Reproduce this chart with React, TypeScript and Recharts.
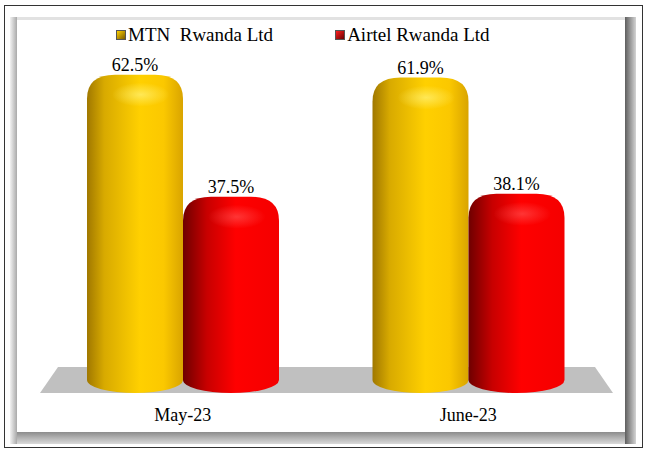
import React from "react";
import { BarChart, Bar, XAxis, YAxis, LabelList, ReferenceArea } from "recharts";

const categories = ["May-23", "June-23"];
const mtnShare = [62.5, 61.9];
const airtelShare = [37.5, 38.1];
const seriesNames = ["MTN  Rwanda Ltd", "Airtel Rwanda Ltd"];

const data = categories.map((month, i) => ({ month, mtn: mtnShare[i], airtel: airtelShare[i] }));

const FONT = "'Liberation Serif', 'Times New Roman', serif";

function Cylinder(props: any) {
  const { x, y, width: w, height: h, gradId, shineId } = props;
  if (h == null || w == null) return null;
  const base = y + h;
  const rx = 28;
  const ry = 24;
  const eb = 13;
  const d = [
    `M ${x} ${base}`,
    `L ${x} ${y + ry}`,
    `Q ${x} ${y} ${x + rx} ${y}`,
    `L ${x + w - rx} ${y}`,
    `Q ${x + w} ${y} ${x + w} ${y + ry}`,
    `L ${x + w} ${base}`,
    `A ${w / 2} ${eb} 0 0 1 ${x} ${base}`,
    "Z",
  ].join(" ");
  return (
    <g>
      <path d={d} fill={`url(#${gradId})`} />
      <ellipse cx={x + w * 0.56} cy={y + 20} rx={w * 0.3} ry={12} fill={`url(#${shineId})`} />
    </g>
  );
}

function Floor(props: any) {
  const { x, y, width, height } = props;
  const base = y + height;
  const pts = [
    [x, base + 13],
    [x + 18, base - 13],
    [x + width - 16, base - 13],
    [x + width + 2, base + 13],
  ]
    .map((p) => p.join(","))
    .join(" ");
  return <polygon points={pts} fill="#c0c0c0" />;
}

function MonthTick(props: any) {
  const { x, y, payload } = props;
  return (
    <text x={x} y={y + 33} textAnchor="middle" fontFamily={FONT} fontSize={18} fill="#000">
      {payload.value}
    </text>
  );
}

const pct = (v: any) => `${Number(v).toFixed(1)}%`;

function Frame() {
  const box = (style: React.CSSProperties) => <div style={{ position: "absolute", ...style }} />;
  return (
    <>
      {box({ left: 4, top: 5, width: 639, height: 443, border: "1px solid #333", boxSizing: "border-box" })}
      {box({ left: 10, top: 17, width: 7, height: 427, background: "linear-gradient(to right, #f2f2f2, #a9a9a9)" })}
      {box({ left: 17, top: 17, width: 608, height: 3, background: "#e2e2e2" })}
      {box({ left: 625, top: 17, width: 11, height: 427, background: "linear-gradient(to right, #5e5e5e, #9a9a9a 50%, #d4d4d4)" })}
      {box({ left: 17, top: 432, width: 608, height: 12, background: "linear-gradient(to bottom, #8c8c8c, #b4b4b4 50%, #dadada)" })}
    </>
  );
}

function LegendMarker({ c1, c2 }: { c1: string; c2: string }) {
  return (
    <span
      style={{
        display: "inline-block",
        width: 10,
        height: 10,
        marginRight: 2,
        background: `linear-gradient(135deg, ${c2}, ${c1})`,
        border: "1px solid #555",
        boxSizing: "border-box",
      }}
    />
  );
}

export default function App() {
  return (
    <div style={{ position: "absolute", left: 0, top: 0, width: 645, height: 453, background: "#fff" }}>
      <Frame />
      <div
        style={{
          position: "absolute",
          top: 24,
          left: 116,
          display: "flex",
          alignItems: "center",
          fontFamily: FONT,
          fontSize: 19,
          whiteSpace: "pre",
          color: "#000",
        }}
      >
        <LegendMarker c1="#7a5a00" c2="#ffd200" />
        <span>{seriesNames[0]}</span>
        <span style={{ width: 62 }} />
        <LegendMarker c1="#6a0000" c2="#ff2020" />
        <span>{seriesNames[1]}</span>
      </div>
      <div style={{ position: "absolute", left: 0, top: 0 }}>
        <BarChart
          width={645}
          height={453}
          data={data}
          margin={{ top: 38, right: 34, left: 40, bottom: 43 }}
          barSize={96}
          barGap={0}
        >
          <defs>
            <linearGradient id="gold" x1="0" y1="0" x2="1" y2="0">
              <stop offset="0%" stopColor="#a07800" />
              <stop offset="18%" stopColor="#d8aa00" />
              <stop offset="55%" stopColor="#ffd000" />
              <stop offset="80%" stopColor="#fbc800" />
              <stop offset="100%" stopColor="#d9a400" />
            </linearGradient>
            <linearGradient id="red" x1="0" y1="0" x2="1" y2="0">
              <stop offset="0%" stopColor="#6e0000" />
              <stop offset="25%" stopColor="#c80000" />
              <stop offset="55%" stopColor="#ff0000" />
              <stop offset="100%" stopColor="#f40000" />
            </linearGradient>
            <radialGradient id="shineGold">
              <stop offset="0%" stopColor="#fff27a" stopOpacity="0.7" />
              <stop offset="100%" stopColor="#fff27a" stopOpacity="0" />
            </radialGradient>
            <radialGradient id="shineRed">
              <stop offset="0%" stopColor="#ff6060" stopOpacity="0.55" />
              <stop offset="100%" stopColor="#ff6060" stopOpacity="0" />
            </radialGradient>
          </defs>
          <XAxis dataKey="month" axisLine={false} tickLine={false} height={30} tick={<MonthTick />} interval={0} />
          <YAxis hide domain={[0, 70]} />
          <ReferenceArea y1={0} y2={1} shape={<Floor />} ifOverflow="visible" />
          <Bar dataKey="mtn" name={seriesNames[0]} isAnimationActive={false} shape={<Cylinder gradId="gold" shineId="shineGold" />}>
            <LabelList dataKey="mtn" position="top" offset={4} formatter={pct} fontFamily={FONT} fontSize={18} fill="#000" />
          </Bar>
          <Bar dataKey="airtel" name={seriesNames[1]} isAnimationActive={false} shape={<Cylinder gradId="red" shineId="shineRed" />}>
            <LabelList dataKey="airtel" position="top" offset={4} formatter={pct} fontFamily={FONT} fontSize={18} fill="#000" />
          </Bar>
        </BarChart>
      </div>
    </div>
  );
}
